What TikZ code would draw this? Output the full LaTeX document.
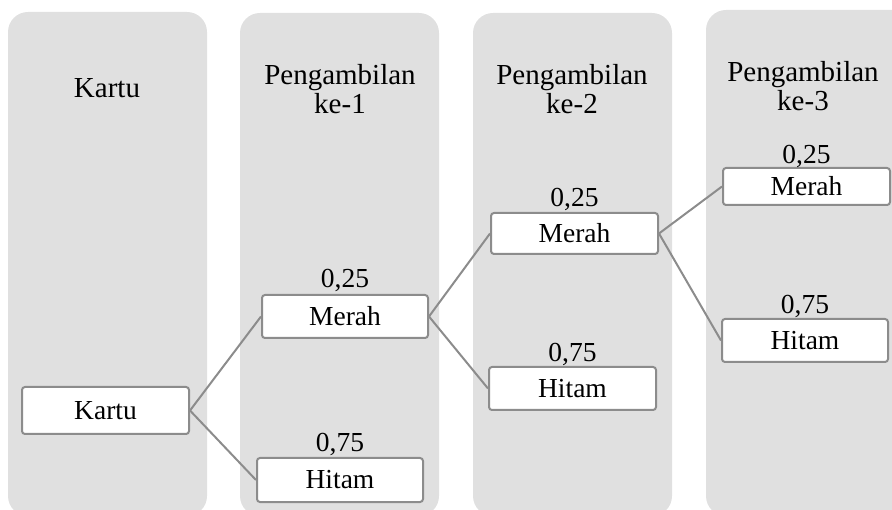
\documentclass[tikz,border=0pt]{standalone}
\usepackage{fontspec}
\setmainfont{Liberation Serif}
\definecolor{panel}{HTML}{E0E0E0}
\definecolor{edge}{HTML}{8C8C8C}
\begin{document}
\begin{tikzpicture}[x=1pt,y=-1pt,
  panelbox/.style={fill=panel, draw=none, rounded corners=20pt},
  hdr/.style={font=\fontsize{29}{28.5}\selectfont, align=center, inner sep=0pt},
  box/.style={draw=edge, line width=2pt, fill=white, rounded corners=3pt,
    minimum width=166pt, minimum height=43pt, inner sep=0pt,
    font=\fontsize{27.5}{28}\selectfont},
  lbl/.style={font=\fontsize{27.5}{28}\selectfont, inner sep=0pt},
  conn/.style={draw=edge, line width=2pt}]
\useasboundingbox (0,0) rectangle (892,510);
\fill[panelbox] (8,12) rectangle (207,516);
\fill[panelbox] (240,13) rectangle (439,516);
\fill[panelbox] (473,13) rectangle (672,516);
\fill[panelbox] (706,10) rectangle (912,516);

\node[hdr] (h0) at (107,88) {Kartu};
\node[hdr] (h1) at (340,89) {Pengambilan\\ke-1};
\node[hdr] (h2) at (572,89) {Pengambilan\\ke-2};
\node[hdr] (h3) at (803,86) {Pengambilan\\ke-3};

\node[box, minimum width=167pt, minimum height=47pt] (k) at (105.5,410.5) {Kartu};
\node[box] (m1) at (345,316.5) {Merah};
\node[box, minimum height=44pt] (t1) at (340,480) {Hitam};
\node[box, minimum width=167pt, minimum height=41pt] (m2) at (574.5,233.5) {Merah};
\node[box, minimum width=167pt] (t2) at (572.5,388.5) {Hitam};
\node[box, minimum width=167pt, minimum height=37pt] (m3) at (806.5,186.5) {Merah};
\node[box] (t3) at (805,340.5) {Hitam};

\draw[conn] (k.east) -- (m1.west);
\draw[conn] (k.east) -- (t1.west);
\draw[conn] (m1.east) -- (m2.west);
\draw[conn] (m1.east) -- (t2.west);
\draw[conn] (m2.east) -- (m3.west);
\draw[conn] (m2.east) -- (t3.west);

\node[lbl, anchor=base] (lm1) at ([yshift=6pt]m1.north) {0,25};
\node[lbl, anchor=base] (lt1) at ([yshift=5pt]t1.north) {0,75};
\node[lbl, anchor=base] (lm2) at ([yshift=5pt]m2.north) {0,25};
\node[lbl, anchor=base] (lt2) at ([yshift=4pt]t2.north) {0,75};
\node[lbl, anchor=base] (lm3) at ([yshift=3pt]m3.north) {0,25};
\node[lbl, anchor=base] (lt3) at ([yshift=4pt]t3.north) {0,75};
\end{tikzpicture}
\end{document}
